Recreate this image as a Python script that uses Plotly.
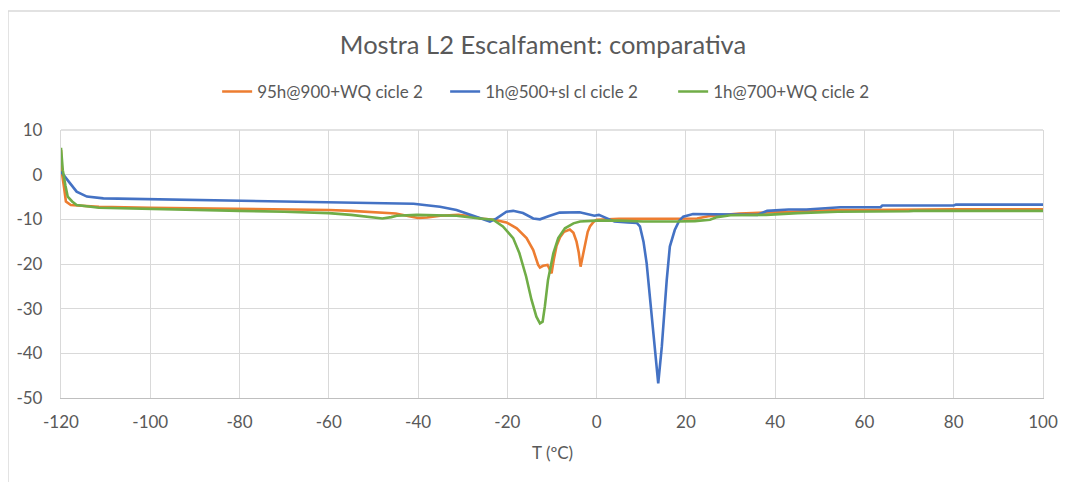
import plotly.graph_objects as go

# ---- data ----
series_names = ["95h@900+WQ cicle 2", "1h@500+sl cl cicle 2", "1h@700+WQ cicle 2"]
series_colors = ["#ED7D31", "#4472C4", "#70AD47"]

t_orange = [-120, -119.8, -119.3, -118.9, -117.8, -115, -111.5, -100, -90, -80, -70, -60, -55, -50, -45,
            -42, -40, -38, -35, -31, -28, -26, -23, -20.2, -17.9, -15.7, -14.2, -13.1, -12.7, -12, -11,
            -10.6, -10.1, -9.6, -9, -8.2, -7.3, -6, -5.2, -4.5, -4, -3.6, -3.1, -2.6, -2, -1.5, -0.7, 0,
            5, 10, 15, 20, 22.5, 25, 28, 32, 35, 40, 45, 54, 60, 70, 80, 100]
v_orange = [5.5, 0.5, -3, -6, -6.8, -7.0, -7.2, -7.4, -7.5, -7.6, -7.7, -7.9, -8.1, -8.4, -8.7,
            -9.3, -9.7, -9.6, -9.2, -9.0, -9.3, -9.8, -10.1, -10.7, -12, -14.2, -16.9, -20.2, -20.8, -20.4, -20.2,
            -21, -22.1, -19, -16, -14, -12.8, -12.3, -13, -15, -17.5, -20.6, -18, -15.5, -12.8, -11.6, -10.6, -10.1,
            -9.9, -9.9, -9.9, -9.8, -9.8, -9.3, -9.0, -8.7, -8.6, -8.4, -8.2, -7.9, -7.9, -7.75, -7.75, -7.75]

t_blue = [-120, -119, -118, -116.5, -114.2, -110.5, -100, -91, -80, -70, -60, -50, -41, -38.6, -35.1,
          -31.4, -28.4, -25.4, -23.9, -22.4, -21, -20.2, -18.7, -16.5, -14.2, -12.7, -10.5, -8.3, -3.8, -2,
          -0.5, 0.5, 2, 4, 7, 9, 9.7, 10.5, 11.2, 12.3, 13.1, 13.8, 14.6, 15.1, 15.7, 16.4, 17.5, 18.5,
          19.4, 21.6, 26, 29.6, 36, 38.2, 43, 47, 54.6, 63.6, 64, 80, 80.5, 100]
v_blue = [0.7, -0.5, -1.9, -3.8, -4.9, -5.3, -5.5, -5.7, -5.9, -6.0, -6.2, -6.4, -6.5, -6.8, -7.2,
          -7.9, -9.0, -10.1, -10.5, -9.8, -8.8, -8.3, -8.1, -8.6, -9.8, -10.0, -9.2, -8.5, -8.4, -8.9,
          -9.2, -9.0, -9.6, -10.5, -10.7, -10.8, -11.6, -15, -19.8, -31, -40, -46.7, -38.5, -31, -23.6, -16.1, -12.4, -10.3,
          -9.4, -8.8, -8.9, -9.0, -9.0, -8.1, -7.8, -7.8, -7.3, -7.3, -6.9, -6.9, -6.7, -6.7]

t_green = [-120, -119.6, -119, -118.5, -117.5, -116.5, -111.5, -100, -90, -80, -70, -60, -55, -50, -48,
           -46, -44.8, -40.3, -35, -31.4, -26.2, -23.2, -21, -18.7, -17.3, -15.8, -14.6, -13.5, -12.7, -12.1,
           -11.6, -10.9, -9.7, -8.6, -7.1, -5.2, -3.7, 0, 5, 10.4, 17.9, 22, 25.4, 27, 30, 38, 45, 54,
           70, 71, 100]
v_green = [6, 1, -2.5, -4.9, -6, -6.8, -7.4, -7.7, -7.9, -8.1, -8.3, -8.6, -9.0, -9.5, -9.8,
           -9.5, -9.2, -9.0, -9.1, -9.2, -9.8, -10.1, -11.6, -14.2, -17.6, -22.8, -28, -31.8, -33.3, -32.9,
           -29.5, -23.6, -17.6, -14.2, -12, -10.9, -10.5, -10.3, -10.3, -10.5, -10.5, -10.4, -10.1, -9.5, -9.1, -9.0, -8.6, -8.3,
           -8.2, -8.1, -8.1]

x_ticks = [-120, -100, -80, -60, -40, -20, 0, 20, 40, 60, 80, 100]
x_tick_labels = ["-120", "-100", "-80", "-60", "-40", "-20", "0", "20", "40", "60", "80", "100"]
y_ticks = [-50, -40, -30, -20, -10, 0, 10]
y_tick_labels = ["-50", "-40", "-30", "-20", "-10", "0", "10"]

title_text = "Mostra L2 Escalfament: comparativa"
x_title = "T (ºC)"

# ---- figure ----
FONT = "Lato, 'Open Sans', sans-serif"
TXT = "#595959"
GRID = "#d9d9d9"

fig = go.Figure()
for name, color, t, v in zip(series_names, series_colors,
                             [t_orange, t_blue, t_green], [v_orange, v_blue, v_green]):
    fig.add_trace(go.Scatter(x=t, y=v, mode="lines", name=name,
                             line=dict(color=color, width=2.6)))

# the page body has an 8px margin, so the figure is 8px smaller on each side
W, H = 1060, 474
fig.update_layout(
    width=W, height=H,
    margin=dict(l=53, r=25, t=122, b=84, autoexpand=False),
    paper_bgcolor="white", plot_bgcolor="white",
    font=dict(family=FONT, color=TXT, size=17),
    title=dict(text=title_text, x=535 / W, xanchor="center", y=1 - 37 / H, yanchor="middle",
               font=dict(family=FONT, size=25.5, color=TXT)),
    legend=dict(orientation="h", x=0.159, xanchor="left", y=1.142, yanchor="middle",
                font=dict(family=FONT, size=17, color=TXT), itemwidth=30,
                entrywidth=183, entrywidthmode="pixels",
                bgcolor="rgba(0,0,0,0)"),
    showlegend=True,
)
fig.update_xaxes(range=[-120, 100], tickvals=x_ticks, ticktext=x_tick_labels,
                 showgrid=True, gridcolor=GRID, gridwidth=1.3, zeroline=False,
                 showline=True, linecolor="#bfbfbf", linewidth=1.3, ticks="",
                 ticklabelstandoff=8)
fig.update_yaxes(range=[-50, 10], tickvals=y_ticks, ticktext=y_tick_labels,
                 showgrid=True, gridcolor=GRID, gridwidth=1.3, zeroline=False,
                 showline=True, mirror=True, linecolor=GRID, linewidth=1.3,
                 ticks="", ticklabelstandoff=14)

fig.add_annotation(text=x_title, xref="paper", yref="paper", x=0.5, y=-0.2015,
                   showarrow=False, xanchor="center", yanchor="middle",
                   font=dict(family=FONT, size=17, color=TXT))

# top gridline at y=10
fig.add_shape(type="line", xref="paper", yref="paper", x0=0, x1=1, y0=1, y1=1,
              line=dict(color=GRID, width=1.3), layer="below")
# chart-area border (left and top edges visible)
fig.add_shape(type="line", xref="paper", yref="paper", x0=-0.054, x1=-0.054, y0=-0.32, y1=1.444,
              line=dict(color=GRID, width=1.5), layer="below")
fig.add_shape(type="line", xref="paper", yref="paper", x0=-0.054, x1=1.03, y0=1.444, y1=1.444,
              line=dict(color=GRID, width=1.5), layer="below")

fig.write_html("out.html")
